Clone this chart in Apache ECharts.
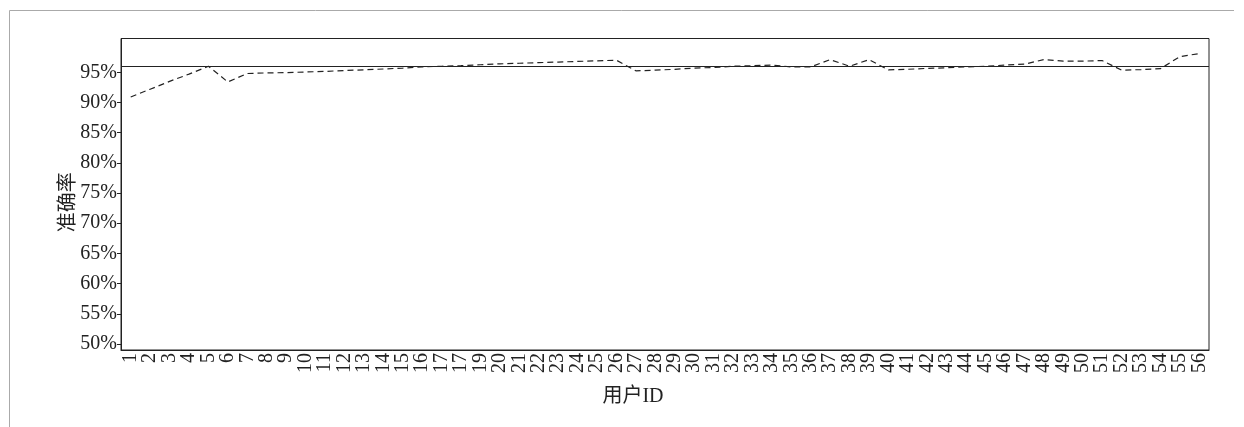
<!DOCTYPE html>
<html>
<head>
<meta charset="utf-8">
<script src="https://cdn.jsdelivr.net/npm/echarts@6/dist/echarts.min.js"></script>
<style>
  html, body { margin: 0; padding: 0; background: #fff; }
  #chart { width: 1244px; height: 427px; }
</style>
</head>
<body>
<div id="chart"></div>
<script>
// 用户ID（原图中 17 重复出现，18 缺失）
const userIds = ['1','2','3','4','5','6','7','8','9','10','11','12','13','14','15','16','17','17','19','20',
  '21','22','23','24','25','26','27','28','29','30','31','32','33','34','35','36','37','38','39','40',
  '41','42','43','44','45','46','47','48','49','50','51','52','53','54','55','56']

// 每个用户的准确率 (%)
const accuracy = [90.9, 92.2, 93.5, 94.7, 96.0, 93.4, 94.8, 94.9, 94.95, 95.05,
  95.15, 95.3, 95.4, 95.55, 95.7, 95.9, 96.0, 96.1, 96.25, 96.4,
  96.5, 96.6, 96.7, 96.8, 96.9, 97.0, 95.25, 95.35, 95.5, 95.7,
  95.8, 96.0, 96.1, 96.2, 95.9, 95.9, 97.1, 96.0, 97.1, 95.4,
  95.5, 95.65, 95.75, 95.9, 96.0, 96.2, 96.35, 97.1, 96.85, 96.85,
  96.95, 95.35, 95.45, 95.6, 97.6, 98.1]

// 平均线
const baseline = 96.0

// Y 轴刻度
const yTicks = [50, 55, 60, 65, 70, 75, 80, 85, 90, 95]

const serif = '"Liberation Serif", "Noto Sans CJK SC", serif'

const chart = echarts.init(document.getElementById('chart'), null, { renderer: 'canvas' })

const option = {
  backgroundColor: '#fff',
  animation: false,
  grid: {
    left: 121,
    top: 38.5,
    right: 35,
    bottom: 77,
    show: true,
    borderColor: '#222',
    borderWidth: 1
  },
  xAxis: {
    type: 'category',
    data: userIds,
    boundaryGap: true,
    name: '用户ID',
    nameLocation: 'middle',
    nameGap: 37,
    nameTextStyle: {
      fontFamily: serif,
      fontSize: 20,
      color: '#222',
      padding: [0, 64, 0, 0]
    },
    axisLine: { lineStyle: { color: '#222', width: 1 } },
    axisTick: { show: false },
    axisLabel: {
      interval: 0,
      rotate: 90,
      margin: 3,
      fontFamily: serif,
      fontSize: 20,
      color: '#222'
    },
    splitLine: { show: false }
  },
  yAxis: {
    type: 'value',
    min: 49,
    max: 100.6,
    name: '准确率',
    nameLocation: 'middle',
    nameGap: 42,
    nameMoveOverlap: false,
    nameTextStyle: {
      fontFamily: serif,
      fontSize: 20,
      color: '#222',
      padding: [0, 16, 0, 0]
    },
    axisLine: { show: true, lineStyle: { color: '#222', width: 1 } },
    axisTick: {
      show: true,
      length: 4,
      customValues: yTicks,
      lineStyle: { color: '#222' }
    },
    axisLabel: {
      customValues: yTicks,
      margin: 4,
      fontFamily: serif,
      fontSize: 20,
      color: '#222',
      formatter: function (v) {
        return v + '%'
      }
    },
    splitLine: { show: false }
  },
  series: [
    {
      name: '准确率',
      type: 'line',
      data: accuracy,
      symbol: 'none',
      lineStyle: {
        color: '#222',
        width: 1.2,
        type: [6, 4]
      },
      markLine: {
        silent: true,
        symbol: 'none',
        label: { show: false },
        lineStyle: { color: '#222', width: 1.2, type: 'solid' },
        data: [{ yAxis: baseline }]
      }
    }
  ],
  graphic: [
    // 外框（上、左）
    {
      type: 'polyline',
      shape: { points: [[9.5, 427], [9.5, 10.5], [1234, 10.5]] },
      style: { stroke: '#aaa', lineWidth: 1, fill: null }
    }
  ]
}

chart.setOption(option)
</script>
</body>
</html>
